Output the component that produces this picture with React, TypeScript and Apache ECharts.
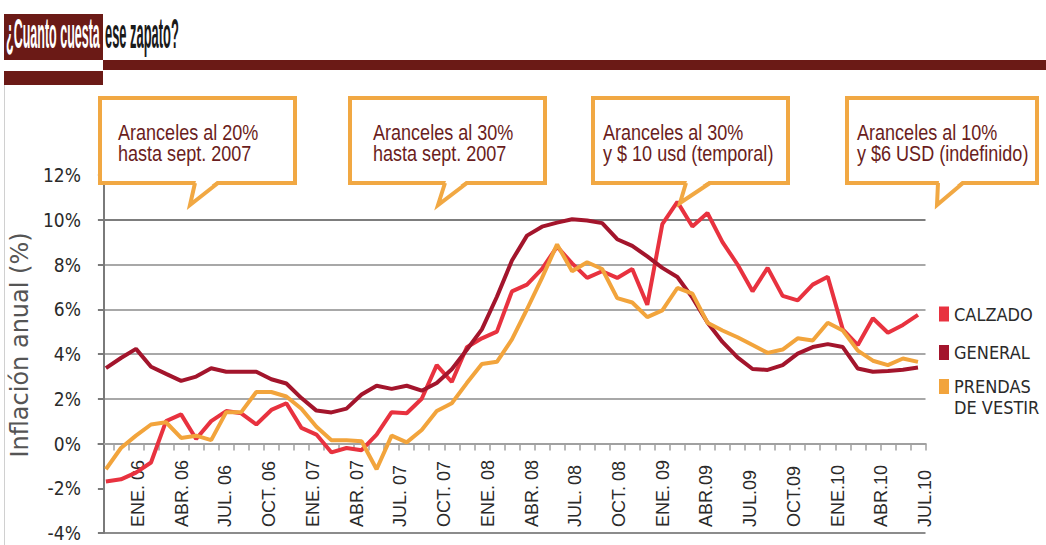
import React, { useEffect, useRef } from "react";
import * as echarts from "echarts";

const SANS = "'Liberation Sans', Arial, sans-serif";
const COND = "'DejaVu Sans Condensed', 'DejaVu Sans', sans-serif";

const months = [
  "ENE. 06", "FEB. 06", "MAR. 06", "ABR. 06", "MAY. 06", "JUN. 06", "JUL. 06", "AGO. 06", "SEP. 06", "OCT. 06", "NOV. 06", "DIC. 06",
  "ENE. 07", "FEB. 07", "MAR. 07", "ABR. 07", "MAY. 07", "JUN. 07", "JUL. 07", "AGO. 07", "SEP. 07", "OCT. 07", "NOV. 07", "DIC. 07",
  "ENE. 08", "FEB. 08", "MAR. 08", "ABR. 08", "MAY. 08", "JUN. 08", "JUL. 08", "AGO. 08", "SEP. 08", "OCT. 08", "NOV. 08", "DIC. 08",
  "ENE. 09", "FEB. 09", "MAR. 09", "ABR.09", "MAY.09", "JUN.09", "JUL.09", "AGO.09", "SEP.09", "OCT.09", "NOV.09", "DIC.09",
  "ENE.10", "FEB.10", "MAR.10", "ABR.10", "MAY.10", "JUN.10", "JUL.10",
];

const calzado = [
  -1.7, -1.6, -1.3, -0.85, 1.0, 1.3, 0.2, 1.0, 1.45, 1.35, 0.85, 1.5,
  1.8, 0.7, 0.4, -0.4, -0.2, -0.3, 0.4, 1.4, 1.35, 2.0, 3.5, 2.75,
  4.3, 4.7, 5.0, 6.8, 7.1, 7.8, 8.8, 8.05, 7.4, 7.7, 7.4, 7.8,
  6.2, 9.8, 10.8, 9.7, 10.3, 9.0, 8.0, 6.8, 7.85, 6.6, 6.4, 7.1,
  7.45, 5.1, 4.4, 5.6, 4.95, 5.3, 5.75,
];

const general = [
  3.37, 3.82, 4.23, 3.43, 3.11, 2.8, 2.99, 3.36, 3.21, 3.21, 3.21, 2.87,
  2.68, 2.03, 1.47, 1.39, 1.56, 2.19, 2.58, 2.44, 2.58, 2.36, 2.7, 3.32,
  4.19, 5.1, 6.56, 8.18, 9.29, 9.69, 9.87, 10.02, 9.97, 9.85, 9.13, 8.83,
  8.36, 7.85, 7.44, 6.52, 5.41, 4.54, 3.85, 3.33, 3.29, 3.5, 4.02, 4.31,
  4.44, 4.31, 3.35, 3.21, 3.24, 3.3, 3.4,
];

const prendas = [
  -1.15, -0.2, 0.35, 0.85, 0.95, 0.25, 0.35, 0.15, 1.4, 1.4, 2.3, 2.3,
  2.1, 1.55, 0.75, 0.15, 0.15, 0.1, -1.15, 0.35, 0.05, 0.6, 1.45, 1.8,
  2.7, 3.55, 3.65, 4.65, 6.0, 7.4, 8.9, 7.7, 8.1, 7.8, 6.5, 6.3,
  5.65, 5.95, 6.95, 6.7, 5.4, 5.05, 4.75, 4.4, 4.05, 4.2, 4.7, 4.6,
  5.4, 5.05, 4.15, 3.7, 3.5, 3.8, 3.65,
];

const seriesNames = ["CALZADO", "GENERAL", "PRENDAS DE VESTIR"];
const seriesColors = ["#e8323f", "#a3152c", "#f2a43c"];

const calloutTexts = [
  "Aranceles al 20%\nhasta sept. 2007",
  "Aranceles al 30%\nhasta sept. 2007",
  "Aranceles al 30%\ny $ 10 usd (temporal)",
  "Aranceles al 10%\ny $6 USD (indefinido)",
];

const calloutBoxes = [
  { x: 100, w: 195, tx: 118, tail: [[195, 183], [190, 205], [218, 183]] },
  { x: 350, w: 195, tx: 373, tail: [[445, 183], [438, 205], [467, 183]] },
  { x: 593, w: 195, tx: 603, tail: [[686, 183], [680, 203], [710, 183]] },
  { x: 847, w: 190, tx: 857, tail: [[938, 183], [937, 205], [963, 183]] },
];

const ORANGE = "#f1a843";
const MAROON = "#6b1a16";

function buildCallouts() {
  const els: any[] = [];
  calloutBoxes.forEach((b, i) => {
    els.push({
      type: "rect",
      z: 100,
      shape: { x: b.x, y: 98, width: b.w, height: 85 },
      style: { fill: "#fff", stroke: ORANGE, lineWidth: 4 },
    });
    els.push({
      type: "polygon",
      z: 101,
      shape: { points: [[b.tail[0][0] + 1, 181], [b.tail[1][0], b.tail[1][1] - 4], [b.tail[2][0] - 1, 181]] },
      style: { fill: "#fff" },
    });
    els.push({
      type: "polyline",
      z: 102,
      shape: { points: b.tail },
      style: { stroke: ORANGE, lineWidth: 4, fill: null },
    });
    els.push({
      type: "text",
      z: 103,
      x: b.tx,
      y: 142.5,
      scaleX: 0.82,
      style: {
        text: calloutTexts[i],
        fill: "#6a1d20",
        font: `22px ${SANS}`,
        lineHeight: 21,
        verticalAlign: "middle",
        align: "left",
      },
    });
  });
  return els;
}

export default function App() {
  const ref = useRef<HTMLDivElement>(null);

  useEffect(() => {
    if (!ref.current) return;
    const chart = echarts.init(ref.current, undefined, { renderer: "svg" });

    const option: any = {
      animation: false,
      backgroundColor: "#ffffff",
      textStyle: { fontFamily: COND },
      grid: [
        { left: 97.5, right: 120.5, top: 175, bottom: 12 },
        { left: 138, right: 121, top: 175, bottom: 102 },
      ],
      xAxis: [
        {
          type: "category",
          gridIndex: 0,
          data: months,
          boundaryGap: true,
          axisLine: { onZero: true, lineStyle: { color: "#a0a0a0", width: 2 } },
          axisTick: {
            show: true,
            length: 7,
            interval: (i: number) => i > 0,
            lineStyle: { color: "#a0a0a0", width: 1.5 },
          },
          axisLabel: { show: false },
          splitLine: { show: false },
        },
        {
          type: "category",
          gridIndex: 1,
          data: months,
          boundaryGap: false,
          position: "bottom",
          axisLine: { show: false, onZero: false },
          axisTick: { show: false },
          splitLine: { show: false },
          axisLabel: {
            interval: 2,
            rotate: 90,
            align: "left",
            margin: 84,
            fontFamily: SANS,
            fontSize: 18,
            color: "#2a2a2a",
          },
        },
      ],
      yAxis: [
        {
          type: "value",
          gridIndex: 0,
          min: -4,
          max: 12,
          interval: 2,
          offset: -5.5,
          name: "Inflación anual (%)",
          nameLocation: "middle",
          nameRotate: 90,
          nameGap: 61,
          nameTextStyle: {
            fontFamily: "'DejaVu Sans', sans-serif",
            fontSize: 24,
            color: "#555",
            padding: [0, 0, 0, 18],
          },
          axisLine: { show: true, lineStyle: { color: "#7a7a7a", width: 2 } },
          axisTick: { show: true, length: 6, lineStyle: { color: "#7a7a7a", width: 2 } },
          axisLabel: {
            formatter: "{value}%",
            margin: 23,
            fontFamily: COND,
            fontSize: 19,
            color: "#2a2a2a",
          },
          splitLine: {
            show: true,
            lineStyle: {
              width: 2,
              color: [
                "#8c8c8c",
                "rgba(0,0,0,0)",
                "#a8a8a8",
                "#a8a8a8",
                "#a8a8a8",
                "#a8a8a8",
                "#a8a8a8",
                "#7d7d7d",
                "rgba(0,0,0,0)",
              ],
            },
          },
        },
        { type: "value", gridIndex: 1, min: -4, max: 12, show: false },
      ],
      legend: [
        {
          data: [{ name: seriesNames[0] }, { name: seriesNames[1] }],
          orient: "vertical",
          left: 939,
          top: 305,
          padding: 0,
          itemWidth: 10,
          itemHeight: 15,
          itemGap: 20.5,
          icon: "rect",
          selectedMode: false,
          textStyle: { fontFamily: COND, fontSize: 18, color: "#2a2a2a" },
        },
        {
          data: [{ name: seriesNames[2] }],
          formatter: () => "\nPRENDAS\nDE VESTIR",
          orient: "vertical",
          left: 939,
          top: 355,
          padding: 0,
          itemWidth: 10,
          itemHeight: 15,
          icon: "rect",
          selectedMode: false,
          textStyle: { fontFamily: COND, fontSize: 18, lineHeight: 21, color: "#2a2a2a" },
        },
      ],
      series: [
        { name: seriesNames[0], data: calzado },
        { name: seriesNames[1], data: general },
        { name: seriesNames[2], data: prendas },
      ].map((s, i) => ({
        ...s,
        type: "line",
        xAxisIndex: 0,
        yAxisIndex: 0,
        symbol: "none",
        color: seriesColors[i],
        lineStyle: { width: 4, color: seriesColors[i] },
        z: 3 + i,
      })),
      graphic: [
        { type: "line", z: 50, shape: { x1: 4.5, y1: 85, x2: 4.5, y2: 545 }, style: { stroke: "#d0d0d0", lineWidth: 1 } },
        { type: "rect", z: 50, shape: { x: 4, y: 14, width: 99, height: 46 }, style: { fill: MAROON } },
        { type: "rect", z: 50, shape: { x: 103, y: 60, width: 943, height: 10 }, style: { fill: MAROON } },
        { type: "rect", z: 50, shape: { x: 4, y: 71, width: 99, height: 14 }, style: { fill: MAROON } },
        {
          type: "text",
          z: 51,
          x: 6,
          y: 34,
          scaleX: 0.298,
          style: { text: "¿Cuanto cuesta", fill: "#fff", font: `bold 42px ${SANS}`, verticalAlign: "middle" },
        },
        {
          type: "text",
          z: 51,
          x: 105,
          y: 34,
          scaleX: 0.307,
          style: { text: "ese zapato?", fill: "#1a1a1a", font: `bold 42px ${SANS}`, verticalAlign: "middle" },
        },
        ...buildCallouts(),
      ],
    };

    chart.setOption(option);
    return () => chart.dispose();
  }, []);

  return (
    <div
      ref={ref}
      style={{ position: "absolute", left: 0, top: 0, width: 1046, height: 545, background: "#fff" }}
    />
  );
}
